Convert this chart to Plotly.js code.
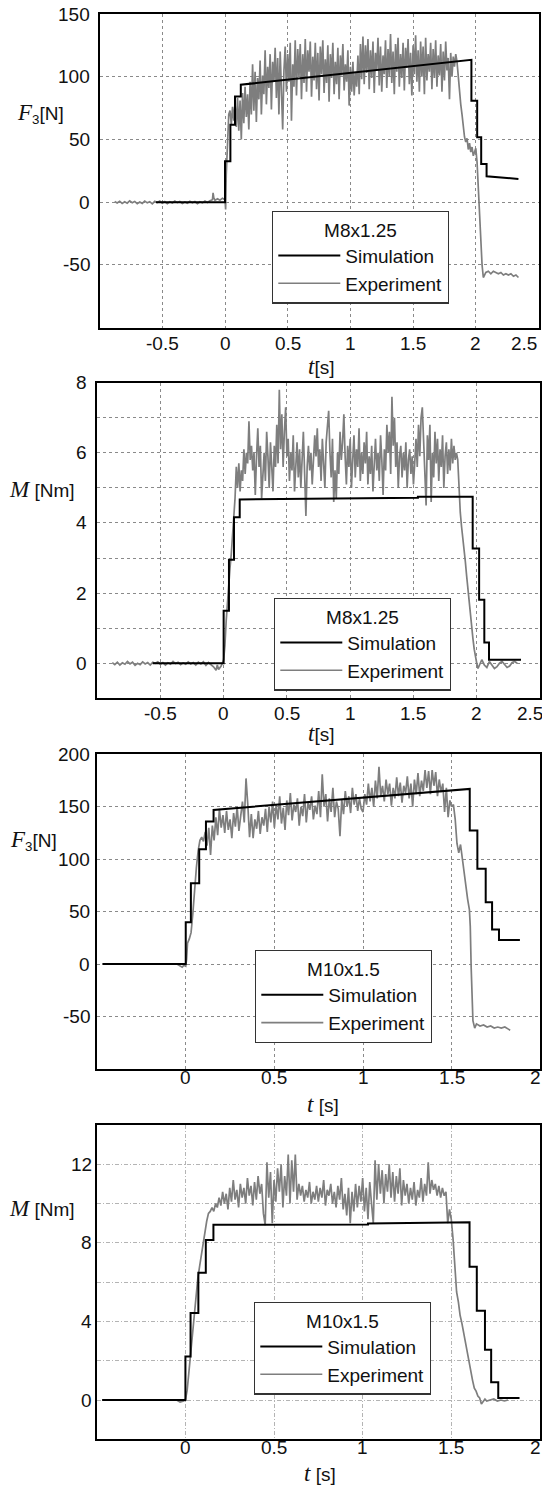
<!DOCTYPE html>
<html><head><meta charset="utf-8">
<script src="https://cdn.plot.ly/plotly-3.0.1.min.js"></script>
<style>html,body{margin:0;padding:0;background:#fff}#c{width:542px;height:1486px}</style>
</head><body><div id="c"></div>
<script>
// ---------- DATA ----------
// common sampling times (s)
const tLead = [-0.88,-0.86,-0.84,-0.82,-0.8,-0.78,-0.76,-0.74,-0.72,-0.7,
-0.68,-0.66,-0.64,-0.62,-0.6,-0.58,-0.56,-0.54,-0.52,-0.5,
-0.48,-0.46,-0.44,-0.42,-0.4,-0.38,-0.36,-0.34,-0.32,-0.3,
-0.28,-0.26,-0.24,-0.22,-0.2,-0.18,-0.16,-0.14,-0.12,-0.1];
const tRun = [0.01,0.02,0.03,0.04,0.05,0.06,0.07,0.08,0.09,0.1,
0.11,0.12,0.13,0.14,0.15,0.16,0.17,0.18,0.19,0.2,
0.21,0.22,0.23,0.24,0.25,0.26,0.27,0.28,0.29,0.3,
0.31,0.32,0.33,0.34,0.35,0.36,0.37,0.38,0.39,0.4,
0.41,0.42,0.43,0.44,0.45,0.46,0.47,0.48,0.49,0.5,
0.51,0.52,0.53,0.54,0.55,0.56,0.57,0.58,0.59,0.6,
0.61,0.62,0.63,0.64,0.65,0.66,0.67,0.68,0.69,0.7,
0.71,0.72,0.73,0.74,0.75,0.76,0.77,0.78,0.79,0.8,
0.81,0.82,0.83,0.84,0.85,0.86,0.87,0.88,0.89,0.9,
0.91,0.92,0.93,0.94,0.95,0.96,0.97,0.98,0.99,1,
1.01,1.02,1.03,1.04,1.05,1.06,1.07,1.08,1.09,1.1,
1.11,1.12,1.13,1.14,1.15,1.16,1.17,1.18,1.19,1.2,
1.21,1.22,1.23,1.24,1.25,1.26,1.27,1.28,1.29,1.3,
1.31,1.32,1.33,1.34,1.35,1.36,1.37,1.38,1.39,1.4,
1.41,1.42,1.43,1.44,1.45,1.46,1.47,1.48,1.49,1.5,
1.51,1.52,1.53,1.54,1.55,1.56,1.57,1.58,1.59,1.6,
1.61,1.62,1.63,1.64,1.65,1.66,1.67,1.68,1.69,1.7,
1.71,1.72,1.73,1.74,1.75,1.76,1.77,1.78,1.79,1.8,
1.81,1.82,1.83,1.84,1.85,1.86,1.87,1.88,1.89,1.9,
1.91,1.92,1.93,1.94,1.95,1.96,1.97,1.98,1.99,2,
2.01,2.02,2.03,2.04,2.05,2.06,2.07];

// Panel 1: F3 [N], M8x1.25
const tSim1 = [-0.55,0,0,0.043,0.043,0.08,0.08,0.126,0.126,1.958,1.965,1.965,2.011,2.011,2.043,2.043,2.086,2.086,2.34];
const fSim1 = [0,0,32.6,32.6,61.8,61.8,84.3,84.3,93.6,113.5,113.5,80.9,80.9,51.7,51.7,30.5,30.5,20.7,18.6];
const tPre1 = [-0.095,-0.09,-0.08,-0.06,-0.04,-0.02,0,0.005];
const fLead1 = [0.5,-0.6,0.8,-1.0,0.3,-0.8,1.1,-0.4,0.6,-1.2,
0.2,-0.9,0.9,-0.5,0.4,-1.3,0.7,-0.2,0.9,-0.7,
0.5,-1.1,0.3,-0.6,1.0,-0.3,0.6,-1.0,0.2,-0.8,
0.7,-0.4,0.5,-1.1,0.4,-0.5,0.9,-0.2,1.2,2.0];
const fPre1 = [7.5,4,1.5,2.8,1.6,3.2,2.0,-5.8];
const fRun1 = [22,55,70,73,62,76,65,79,60,83,
57,81,50,87,63,92,68,86,58,96,
70,110,73,104,64,99,82,113,70,101,
86,121,78,108,91,118,74,112,96,123,
83,115,70,120,92,58,105,124,88,118,
96,127,65,110,92,129,85,122,100,126,
82,118,95,130,88,121,104,128,84,116,
97,127,90,119,81,124,102,129,87,114,
95,125,80,118,99,127,86,112,94,123,
82,117,101,126,89,110,96,121,77,108,
88,112,85,104,92,117,86,126,98,132,
94,125,103,130,90,121,99,128,87,119,
105,131,93,124,88,117,102,129,91,122,
100,134,95,120,86,126,104,131,92,118,
99,127,89,123,107,130,94,119,85,125,
102,133,96,121,88,128,100,124,86,131,
97,118,104,127,90,122,99,129,92,117,
101,126,88,120,97,128,105,115,82,119,
100,116,108,118,112,100,85,78,70,58,
52,48,51,42,47,40,44,37,41,43,
32,12,-12,-35,-50,-60,-58];
const tTail1 = [2.08,2.1,2.12,2.14,2.16,2.18,2.2,2.22,2.24,2.26,2.28,2.3,2.32,2.34];
const fTail1 = [-56,-55,-57,-55,-56,-57,-56,-58,-57,-58,-57,-59,-58,-60];

// Panel 2: M [Nm], M8x1.25
const tSim2 = [-0.56,0,0,0.042,0.042,0.082,0.082,0.127,0.127,0.6,1.535,1.535,1.968,1.968,2.019,2.019,2.06,2.06,2.097,2.097,2.35];
const mSim2 = [0,0,1.5,1.5,2.95,2.95,4.16,4.16,4.67,4.69,4.72,4.75,4.75,3.27,3.27,1.81,1.81,0.59,0.59,0.1,0.1];
const mLead2 = [0.02,-0.04,0.03,-0.05,0.01,-0.03,0.05,-0.02,0.03,-0.06,
0.0,-0.04,0.04,-0.02,0.02,-0.05,0.03,0.0,0.04,-0.03,
0.02,-0.05,0.01,-0.03,0.05,-0.01,0.03,-0.04,0.01,-0.03,
0.04,-0.02,0.02,-0.05,0.03,-0.02,0.04,-0.06,0.02,-0.04];
const tPre2 = [-0.08,-0.06,-0.05,-0.04,-0.02,0];
const mPre2 = [-0.1,-0.2,-0.05,-0.18,-0.08,0.1];
const mRun2 = [0.5,1.2,1.8,2.2,2.7,3.1,3.6,4.1,4.7,5.6,
5.0,5.7,4.9,5.5,5.2,6.1,5.4,6.0,5.7,6.9,
5.8,6.2,5.5,6.0,4.8,5.9,6.7,5.6,6.2,4.7,
5.4,6.0,5.2,6.6,5.9,5.0,6.3,5.5,4.9,6.2,
5.6,6.8,5.7,7.8,6.1,7.1,5.6,6.6,7.3,5.9,
6.4,5.2,6.0,5.5,6.5,4.9,5.8,6.3,5.3,6.1,
5.0,5.7,6.6,5.4,4.2,5.6,6.2,5.5,6.0,5.1,
5.8,6.5,5.9,6.7,5.6,6.1,5.2,6.4,5.7,5.0,
6.3,6.9,7.2,6.0,5.3,6.4,4.6,5.5,4.7,6.0,
5.4,6.6,5.8,6.3,7.1,5.9,5.1,6.2,5.6,6.4,
5.0,5.8,6.5,5.3,6.1,5.6,6.7,5.2,6.0,5.4,
6.3,5.7,6.6,5.1,5.9,5.4,6.2,4.9,5.7,6.4,
5.5,6.0,5.2,6.5,5.8,4.8,6.1,5.5,6.8,6.0,
6.6,5.4,7.6,6.2,7.0,5.6,6.3,5.0,5.9,6.2,
5.3,6.0,5.5,6.3,5.0,5.8,6.1,5.4,5.9,5.1,
5.7,6.4,5.6,6.8,5.9,7.0,7.3,6.2,5.5,4.5,
6.5,5.8,6.8,4.6,6.0,5.3,6.6,5.7,6.4,5.2,
6.1,5.6,6.5,5.0,5.9,6.3,5.4,6.1,5.5,6.4,
5.7,6.2,5.8,6.0,5.8,4.9,4.3,3.9,3.6,3.2,
2.9,2.5,2.1,1.7,1.4,1.0,0.7,0.4,0.15,0.0,
-0.15];
const tTail2 = [2.02,2.04,2.06,2.08,2.1,2.12,2.14,2.16,2.18,2.2,2.22,2.24,2.26,2.28,2.3,2.32];
const mTail2 = [-0.05,0.1,-0.05,-0.12,0.05,-0.05,-0.15,-0.1,0.0,0.05,-0.05,-0.12,-0.08,0.02,0.05,0.0];

// Panel 3: F3 [N], M10x1.5
const tSim3 = [-0.47,0,0,0.029,0.029,0.076,0.076,0.114,0.114,0.157,0.157,1.579,1.602,1.602,1.645,1.645,1.692,1.692,1.728,1.728,1.767,1.767,1.885];
const fSim3 = [0,0,39.8,39.8,77.1,77.1,109.6,109.6,136,136,147,166,167,127.4,127.4,90.8,90.8,59,59,33.1,33.1,22.9,22.9];
const tPre3 = [-0.05,-0.03,-0.02,-0.01,0,0.005];
const fPre3 = [0,-2,-3,-1,-2,5];
const fRun3 = [20,24,30,48,75,92,108,118,121,117,
126,113,130,104,132,118,140,123,148,130,
142,125,146,128,138,120,144,131,150,127,
141,155,135,177,152,121,143,120,138,129,
146,124,140,132,148,126,150,135,155,130,
152,138,160,134,149,128,156,142,163,137,
152,145,158,132,150,141,162,135,154,147,
160,138,151,143,165,140,181,150,162,136,
158,145,168,140,155,148,122,157,143,165,
150,160,144,168,152,162,146,158,148,145,
162,152,172,155,168,150,175,158,188,160,
170,155,176,162,172,151,168,158,178,160,
173,154,170,163,179,158,172,150,176,162,
182,160,175,165,185,168,184,162,185,170,
183,160,176,164,172,145,168,140,156,150,
152,138,115,106,114,100,85,72,62,52];
const tDrop3 = [1.605,1.61,1.615,1.62,1.63,1.64,1.66,1.68,1.7,1.72,1.74,1.76,1.78,1.8,1.82,1.83];
const fDrop3 = [36,-3,-35,-54,-61,-57,-59,-58,-60,-59,-61,-60,-61,-60,-62,-63];

// Panel 4: M [Nm], M10x1.5
const tSim4 = [-0.47,0,0,0.029,0.029,0.073,0.073,0.115,0.115,0.158,0.158,1.03,1.03,1.603,1.603,1.644,1.644,1.69,1.69,1.725,1.725,1.765,1.765,1.885];
const mSim4 = [0,0,2.22,2.22,4.43,4.43,6.48,6.48,8.15,8.15,8.92,8.93,8.98,9.05,6.79,6.79,4.54,4.54,2.56,2.56,0.9,0.9,0.1,0.1];
const tPre4 = [-0.05,-0.03,-0.01,0];
const mPre4 = [0,-0.1,-0.05,0];
const mRun4 = [0.5,1.5,2.4,3.4,4.4,5.5,6.2,6.8,7.4,8.0,
8.6,9.1,9.5,9.6,9.8,9.6,10.0,9.8,10.3,9.9,
10.6,10.0,10.5,9.7,10.8,10.1,11.2,10.2,10.7,9.8,
11.0,10.3,10.8,10.0,11.3,10.4,10.9,9.9,11.1,10.2,
11.4,10.5,11.0,9.5,8.9,12.1,10.3,11.6,9.0,11.2,
10.1,11.8,10.6,12.0,9.8,11.4,10.4,12.5,10.0,12.2,
10.6,12.5,10.2,11.0,10.4,10.9,10.1,10.7,10.3,11.1,
10.0,10.6,10.2,10.9,10.1,10.8,10.3,11.2,9.9,10.7,
10.4,11.0,10.0,10.6,9.8,10.9,10.2,11.3,9.7,10.5,
9.4,10.8,9.0,10.6,9.6,11.0,9.8,10.9,10.1,11.3,
9.6,10.8,9.2,11.1,10.0,9.0,12.2,10.2,12.0,10.5,
11.7,10.0,11.5,10.6,12.0,10.3,11.6,10.1,11.4,10.5,
11.8,9.9,11.2,10.4,11.0,10.0,10.8,10.2,11.1,9.9,
10.7,10.3,11.3,10.1,11.0,10.4,12.1,10.5,11.2,10.7,
11.0,10.4,10.9,10.3,10.8,10.4,10.6,
9.0,9.7,9.2,8.2,6.8,5.5,5.0,4.3,3.9,3.4,
2.9,2.4,1.8,1.4,1.0,0.6,0.45,0.2,0.1,-0.2,
-0.1,0.05,-0.05];
const tTail4 = [1.72,1.74,1.76,1.78,1.8,1.82];
const mTail4 = [0.0,0.05,-0.05,0.0,-0.05,0.0];

// ticks and tick labels
const xTicksA = [-0.5,0,0.5,1,1.5,2,2.5];
const xTextA = ['-0.5','0','0.5','1','1.5','2','2.5'];
const xTicksB = [0,0.5,1,1.5,2];
const xTextB = ['0','0.5','1','1.5','2'];
const yTicks1 = [-50,0,50,100,150];
const yText1 = ['-50','0','50','100','150'];
const yTicks2 = [0,2,4,6,8];
const yText2 = ['0','2','4','6','8'];
const yMinor2 = [1,3,5,7];
const yTicks3 = [-50,0,50,100,150,200];
const yText3 = ['-50','0','50','100','150','200'];
const yTicks4 = [0,4,8,12];
const yText4 = ['0','4','8','12'];
const yMinor4 = [2,6,10];
const legendTitles = ['M8x1.25','M8x1.25','M10x1.5','M10x1.5'];

// ---------- BUILD ----------
const W = 542, H = 1486;
const fx = p => p / W, fy = p => 1 - p / H;
const FONT = 'Liberation Sans, Arial, sans-serif';
// plot boxes in page pixels; xl = centre line of x tick labels, yr = right edge of y tick labels,
// lastR = right edge of the last x tick label (pushed inside the page as in the original)
const boxes = [
  {L:99.6, R:538.5, T:14,    B:327.7,  xl:343,  yr:90.6, lastR:538},
  {L:97.1, R:540,   T:382.7, B:698.3,  xl:713,  yr:88,   lastR:544},
  {L:97.1, R:540.3, T:754.3, B:1069,   xl:1077, yr:90.6, lastR:542},
  {L:96.8, R:539.9, T:1125,  B:1439.3, xl:1447, yr:92.6, lastR:542}
];
const legPos = [{L:272,T:210.7},{L:274,T:597.7},{L:255,T:950},{L:254,T:1301.7}];

const sims = [[tSim1,fSim1],[tSim2,mSim2],[tSim3,fSim3],[tSim4,mSim4]];
const exps = [
  [tLead.concat(tPre1, tRun, tTail1), fLead1.concat(fPre1, fRun1, fTail1)],
  [tLead.concat(tPre2, tRun.slice(0,201), tTail2), mLead2.concat(mPre2, mRun2, mTail2)],
  [tPre3.concat(tRun.slice(0,160), tDrop3), fPre3.concat(fRun3, fDrop3)],
  [tPre4.concat(tRun.slice(0,170), tTail4), mPre4.concat(mRun4, mTail4)]
];
const xTickSets = [[xTicksA,xTextA],[xTicksA,xTextA],[xTicksB,xTextB],[xTicksB,xTextB]];
const yTickSets = [[yTicks1,yText1],[yTicks2,yText2],[yTicks3,yText3],[yTicks4,yText4]];

const traces = [];
for (let i = 0; i < 4; i++) {
  const s = i === 0 ? '' : String(i + 1);
  traces.push({x:exps[i][0], y:exps[i][1], type:'scatter', mode:'lines', name:'Experiment',
    line:{color:'#7e7e7e', width:1.7}, xaxis:'x'+s, yaxis:'y'+s, legend:'legend'+s, legendrank:2, hoverinfo:'skip'});
  traces.push({x:sims[i][0], y:sims[i][1], type:'scatter', mode:'lines', name:'Simulation',
    line:{color:'#000', width:2}, xaxis:'x'+s, yaxis:'y'+s, legend:'legend'+s, legendrank:1, hoverinfo:'skip'});
}

const tickFont = {family:FONT, size:19, color:'#111'};
function gridStyle(i){
  return i === 3 ? {gridcolor:'#b4b4b4', griddash:'4px,2px,1px,2px'} : {gridcolor:'#8a8a8a', griddash:'dot'};
}
function xAx(i, range){
  const b = boxes[i], g = gridStyle(i);
  return {domain:[fx(b.L), fx(b.R)], range:range, anchor:'y'+(i?i+1:''), tickmode:'array', tickvals:xTickSets[i][0],
    showticklabels:false, showgrid:true, gridcolor:g.gridcolor, griddash:g.griddash, gridwidth:1, zeroline:false,
    showline:true, mirror:true, linecolor:'#000', linewidth:2, ticks:'', fixedrange:true};
}
function yAx(i, range, minor){
  const b = boxes[i], g = gridStyle(i);
  const ax = {domain:[fy(b.B), fy(b.T)], range:range, anchor:'x'+(i?i+1:''), tickmode:'array', tickvals:yTickSets[i][0],
    showticklabels:false, showgrid:true, gridcolor:g.gridcolor, griddash:g.griddash, gridwidth:1, zeroline:false,
    showline:true, mirror:true, linecolor:'#000', linewidth:2, ticks:'', fixedrange:true};
  if (minor) ax.minor = {tickmode:'array', tickvals:minor, showgrid:true, gridcolor:g.gridcolor, griddash:g.griddash, gridwidth:1, ticks:''};
  return ax;
}
function legendCfg(i){
  return {x:fx(legPos[i].L), y:fy(legPos[i].T), xanchor:'left', yanchor:'top', bgcolor:'#fff',
    bordercolor:'#333', borderwidth:1.3, font:{family:FONT, size:19, color:'#111'},
    title:{text:legendTitles[i], side:'top center', font:{family:FONT, size:19, color:'#111'}},
    itemwidth:62, tracegroupgap:0};
}
const SER = 'font-family:Liberation Serif;font-style:italic;font-size:23px';
const fTitle = '<span style="'+SER+'">F</span><sub>3</sub>[N]';
const mTitle = '<span style="'+SER+'">M</span> [Nm]';
const tTitleA = '<span style="'+SER+'">t</span>[s]';
const tTitleB = '<span style="'+SER+'">t</span> [s]';
function ann(text, X, Y){
  return {text:text, xref:'paper', yref:'paper', x:fx(X), y:fy(Y), xanchor:'center', yanchor:'middle',
    showarrow:false, font:{family:FONT, size:19, color:'#111'}};
}
const annotations = [
  ann(fTitle, 40, 113), ann(tTitleA, 321, 366),
  ann(mTitle, 42, 490), ann(tTitleA, 321, 733),
  ann(fTitle, 33, 840), ann(tTitleB, 323, 1104),
  ann(mTitle, 42, 1208), ann(tTitleB, 320, 1473)
];
// tick labels, placed on the axes' own scales
for (let i = 0; i < 4; i++) {
  const s = i === 0 ? '' : String(i + 1), b = boxes[i];
  const xv = xTickSets[i][0], xt = xTickSets[i][1];
  xv.forEach((v, k) => {
    const last = k === xv.length - 1;
    annotations.push({text:xt[k], xref: last ? 'paper' : 'x'+s, x: last ? fx(b.lastR) : v,
      xanchor: last ? 'right' : 'center', yref:'paper', y:fy(b.xl), yanchor:'middle',
      showarrow:false, borderpad:0, font:tickFont});
  });
  const yv = yTickSets[i][0], yt = yTickSets[i][1];
  yv.forEach((v, k) => {
    annotations.push({text:yt[k], xref:'paper', x:fx(b.yr), xanchor:'right', yref:'y'+s, y:v, yanchor:'middle',
      showarrow:false, borderpad:0, font:tickFont});
  });
}

const layout = {
  width:W, height:H, margin:{l:0, r:0, t:0, b:0}, paper_bgcolor:'#fff', plot_bgcolor:'#fff',
  showlegend:true,
  xaxis:  xAx(0, [-1, 2.5]),
  yaxis:  yAx(0, [-100, 150]),
  xaxis2: xAx(1, [-1, 2.5]),
  yaxis2: yAx(1, [-1, 8], yMinor2),
  xaxis3: xAx(2, [-0.5, 2]),
  yaxis3: yAx(2, [-100, 200]),
  xaxis4: xAx(3, [-0.5, 2]),
  yaxis4: yAx(3, [-2, 14], yMinor4),
  legend: legendCfg(0), legend2: legendCfg(1), legend3: legendCfg(2), legend4: legendCfg(3),
  annotations: annotations
};
Plotly.newPlot('c', traces, layout, {displayModeBar:false, staticPlot:true});
</script></body></html>
